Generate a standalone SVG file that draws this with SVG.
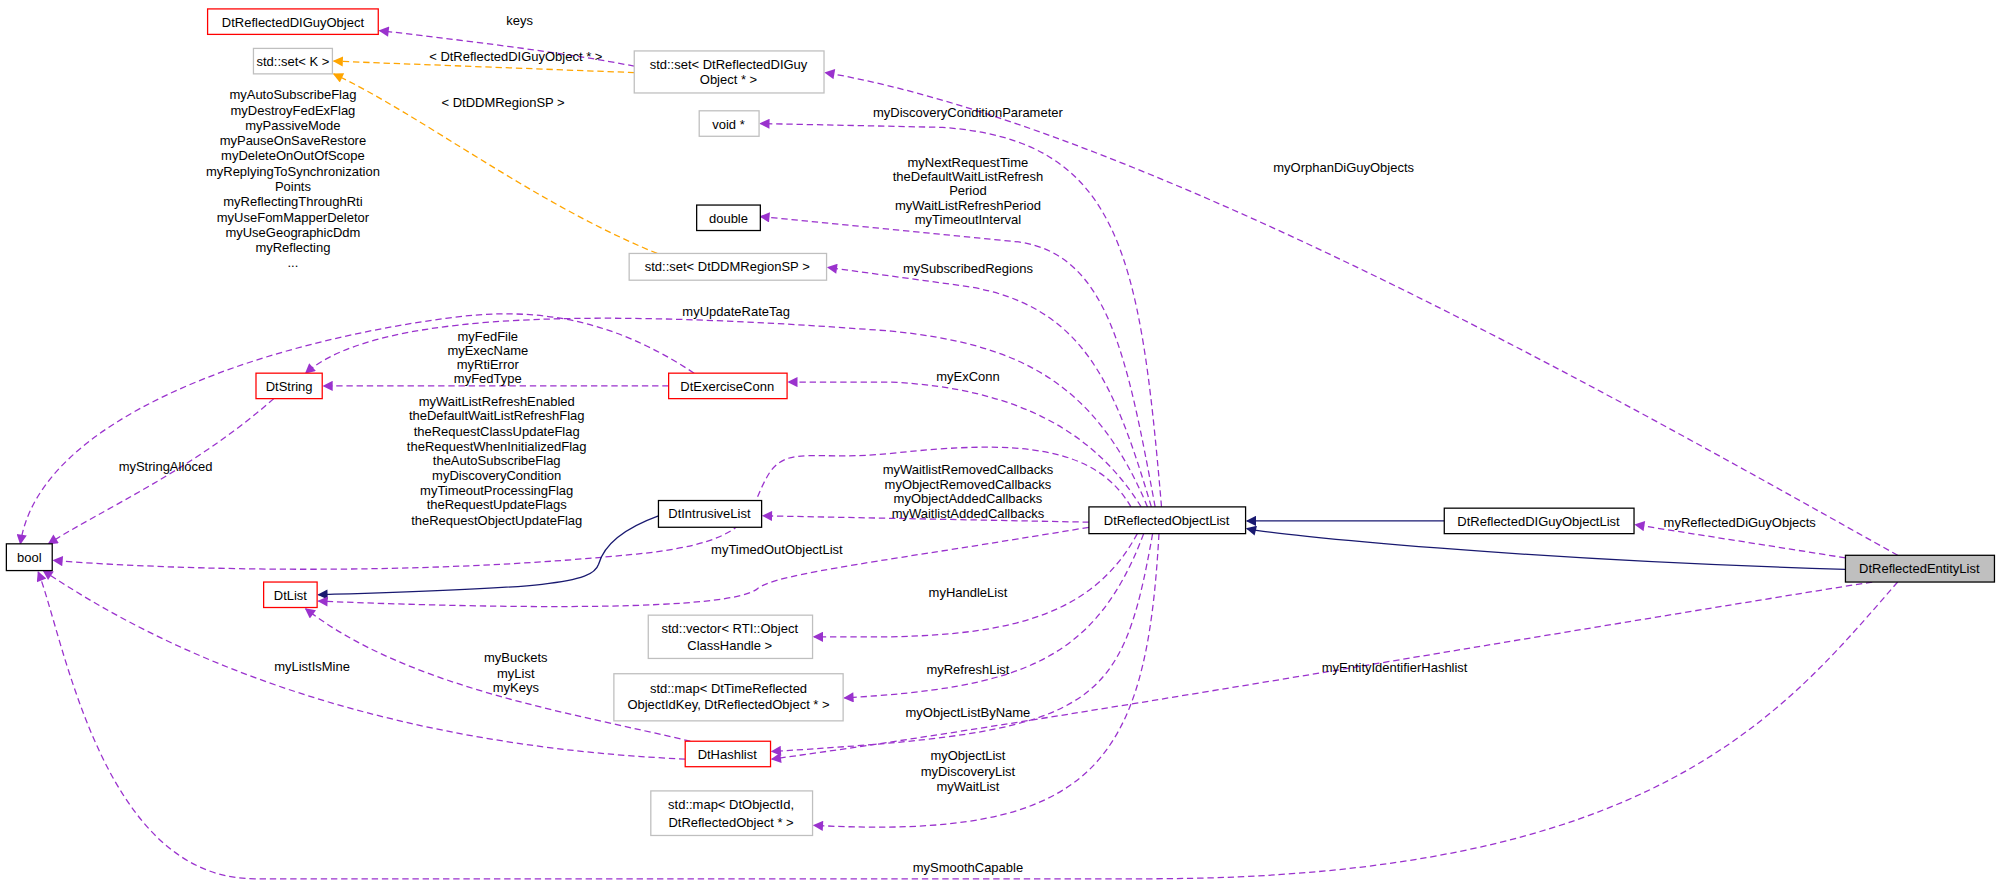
<svg xmlns="http://www.w3.org/2000/svg" width="1997" height="881" viewBox="0 0 1997 881">
<style>
text{font-family:"Liberation Sans",Arial,sans-serif;font-size:10.2px;fill:#000;text-anchor:middle}
.n rect{stroke-width:1}
.blk{fill:#fff;stroke:#000}
.red{fill:#fff;stroke:#ff0000}
.gry{fill:#fff;stroke:#bfbfbf}
.cur{fill:#bfbfbf;stroke:#000}
.p{fill:none;stroke:#9a32cd;stroke-dasharray:5,3;marker-end:url(#mp)}
.o{fill:none;stroke:#ffa500;stroke-dasharray:5,3;marker-end:url(#mo)}
.s{fill:none;stroke:#191970;marker-end:url(#ms)}
</style>
<defs>
<marker id="mp" viewBox="0 0 10 10" refX="9" refY="5" markerWidth="10" markerHeight="8" orient="auto" markerUnits="userSpaceOnUse"><path d="M0,0L10,5L0,10z" fill="#9a32cd"/></marker>
<marker id="mo" viewBox="0 0 10 10" refX="9" refY="5" markerWidth="10" markerHeight="8" orient="auto" markerUnits="userSpaceOnUse"><path d="M0,0L10,5L0,10z" fill="#ffa500"/></marker>
<marker id="ms" viewBox="0 0 10 10" refX="9" refY="5" markerWidth="10" markerHeight="8" orient="auto" markerUnits="userSpaceOnUse"><path d="M0,0L10,5L0,10z" fill="#191970"/></marker>
</defs>
<rect width="1997" height="881" fill="#fff"/>
<g transform="scale(1.2736)">
<g id="connectors">
<path class="p" d="M498,52 C450,42 350,30 298,24"/>
<text x="408" y="20">keys</text>
<path class="o" d="M498,57 L262,48"/>
<text x="405" y="48">&lt; DtReflectedDIGuyObject * &gt;</text>
<path class="o" d="M516,199 C420,160 330,90 262,58"/>
<text x="395" y="84">&lt; DtDDMRegionSP &gt;</text>
<path class="p" d="M1490,436 C1300,330 900,100 648,57"/>
<text x="1055" y="135">myOrphanDiGuyObjects</text>
<path class="p" d="M912,398 C895,200 880,110 740,100 L597,97"/>
<text x="760" y="92">myDiscoveryConditionParameter</text>
<path class="p" d="M907,398 C885,280 870,200 800,190 L597,170"/>
<text x="760" y="131">myNextRequestTime</text>
<text x="760" y="142">theDefaultWaitListRefresh</text>
<text x="760" y="153">Period</text>
<text x="760" y="165">myWaitListRefreshPeriod</text>
<text x="760" y="176">myTimeoutInterval</text>
<path class="p" d="M904,398 C875,300 850,240 760,225 L650,210"/>
<text x="760" y="214">mySubscribedRegions</text>
<path class="p" d="M901,398 C860,300 800,270 700,260 C500,245 300,240 240,293"/>
<text x="578" y="248">myUpdateRateTag</text>
<path class="p" d="M545,293 C480,250 420,240 350,250 C200,270 30,330 16,427"/>
<text x="230" y="78">myAutoSubscribeFlag</text>
<text x="230" y="90">myDestroyFedExFlag</text>
<text x="230" y="102">myPassiveMode</text>
<text x="230" y="114">myPauseOnSaveRestore</text>
<text x="230" y="126">myDeleteOnOutOfScope</text>
<text x="230" y="138">myReplyingToSynchronization</text>
<text x="230" y="150">Points</text>
<text x="230" y="162">myReflectingThroughRti</text>
<text x="230" y="174">myUseFomMapperDeletor</text>
<text x="230" y="186">myUseGeographicDdm</text>
<text x="230" y="198">myReflecting</text>
<text x="230" y="210">...</text>
<path class="p" d="M525,303 L254,303"/>
<text x="383" y="268">myFedFile</text>
<text x="383" y="279">myExecName</text>
<text x="383" y="290">myRtiError</text>
<text x="383" y="301">myFedType</text>
<path class="p" d="M896,398 C860,340 800,305 700,300 L619,300"/>
<text x="760" y="299">myExConn</text>
<path class="p" d="M215,313 C150,370 80,400 38,427"/>
<text x="130" y="370">myStringAlloced</text>
<path class="p" d="M888,398 C860,350 800,345 700,356 C640,362 620,350 605,370 C585,400 600,425 500,435 C300,455 100,445 42,440"/>
<text x="390" y="319">myWaitListRefreshEnabled</text>
<text x="390" y="330">theDefaultWaitListRefreshFlag</text>
<text x="390" y="342">theRequestClassUpdateFlag</text>
<text x="390" y="354">theRequestWhenInitializedFlag</text>
<text x="390" y="365">theAutoSubscribeFlag</text>
<text x="390" y="377">myDiscoveryCondition</text>
<text x="390" y="389">myTimeoutProcessingFlag</text>
<text x="390" y="400">theRequestUpdateFlags</text>
<text x="390" y="412">theRequestObjectUpdateFlag</text>
<path class="p" d="M855,410 L599,405"/>
<text x="760" y="372">myWaitlistRemovedCallbacks</text>
<text x="760" y="384">myObjectRemovedCallbacks</text>
<text x="760" y="395">myObjectAddedCallbacks</text>
<text x="760" y="407">myWaitlistAddedCallbacks</text>
<path class="s" d="M517,405 C495,413 475,425 470,443 C465,458 430,462 250,467"/>
<path class="p" d="M855,414 C700,440 610,450 595,462 C575,480 400,478 250,472"/>
<text x="610" y="435">myTimedOutObjectList</text>
<path class="p" d="M893,419 C860,480 800,498 700,500 L639,500"/>
<text x="760" y="469">myHandleList</text>
<path class="p" d="M898,419 C860,520 800,540 663,548"/>
<text x="760" y="529">myRefreshList</text>
<path class="p" d="M905,419 C880,560 860,575 606,590"/>
<text x="760" y="563">myObjectListByName</text>
<path class="p" d="M910,419 C900,600 860,660 639,648"/>
<text x="760" y="597">myObjectList</text>
<text x="760" y="609">myDiscoveryList</text>
<text x="760" y="621">myWaitList</text>
<path class="p" d="M1470,457 C1200,500 800,570 606,596"/>
<text x="1095" y="528">myEntityIdentifierHashlist</text>
<path class="p" d="M542,582 C450,560 320,540 240,478"/>
<text x="405" y="520">myBuckets</text>
<text x="405" y="532">myList</text>
<text x="405" y="543">myKeys</text>
<path class="p" d="M538,596 C400,590 200,560 34,448"/>
<text x="245" y="527">myListIsMine</text>
<path class="p" d="M1490,457 C1400,560 1300,690 900,690 L200,690 C80,690 50,500 30,449"/>
<text x="760" y="685">mySmoothCapable</text>
<path class="p" d="M1449,438 L1284,412"/>
<text x="1366" y="414">myReflectedDiGuyObjects</text>
<path class="s" d="M1134,409 L979,409"/>
<path class="s" d="M1449,447 C1200,440 1000,420 979,415"/>
</g>
<g id="n1" class="n"><rect class="red" x="163" y="7" width="134" height="20"/><text x="230" y="21">DtReflectedDIGuyObject</text></g>
<g id="n2" class="n"><rect class="gry" x="199" y="38" width="62" height="20"/><text x="230" y="52">std::set&lt; K &gt;</text></g>
<g id="n3" class="n"><rect class="gry" x="498" y="40" width="149" height="33"/><text x="572" y="54">std::set&lt; DtReflectedDIGuy</text><text x="572" y="66">Object * &gt;</text></g>
<g id="n4" class="n"><rect class="gry" x="549" y="87" width="47" height="20"/><text x="572" y="101">void *</text></g>
<g id="n5" class="n"><rect class="blk" x="547" y="161" width="50" height="20"/><text x="572" y="175">double</text></g>
<g id="n6" class="n"><rect class="gry" x="494" y="199" width="155" height="21"/><text x="571" y="213">std::set&lt; DtDDMRegionSP &gt;</text></g>
<g id="n7" class="n"><rect class="red" x="201" y="293" width="52" height="20"/><text x="227" y="307">DtString</text></g>
<g id="n8" class="n"><rect class="red" x="525" y="293" width="93" height="20"/><text x="571" y="307">DtExerciseConn</text></g>
<g id="n9" class="n"><rect class="blk" x="5" y="427" width="36" height="21"/><text x="23" y="441">bool</text></g>
<g id="n10" class="n"><rect class="blk" x="517" y="393" width="81" height="21"/><text x="557" y="407">DtIntrusiveList</text></g>
<g id="n11" class="n"><rect class="blk" x="855" y="398" width="123" height="21"/><text x="916" y="412">DtReflectedObjectList</text></g>
<g id="n12" class="n"><rect class="blk" x="1134" y="399" width="149" height="20"/><text x="1208" y="413">DtReflectedDIGuyObjectList</text></g>
<g id="n13" class="n"><rect class="cur" x="1449" y="436" width="117" height="21"/><text x="1507" y="450">DtReflectedEntityList</text></g>
<g id="n14" class="n"><rect class="red" x="207" y="457" width="42" height="20"/><text x="228" y="471">DtList</text></g>
<g id="n15" class="n"><rect class="gry" x="509" y="483" width="129" height="34"/><text x="573" y="497">std::vector&lt; RTI::Object</text><text x="573" y="510">ClassHandle &gt;</text></g>
<g id="n16" class="n"><rect class="gry" x="482" y="529" width="180" height="37"/><text x="572" y="544">std::map&lt; DtTimeReflected</text><text x="572" y="557">ObjectIdKey, DtReflectedObject * &gt;</text></g>
<g id="n17" class="n"><rect class="red" x="538" y="582" width="67" height="20"/><text x="571" y="596">DtHashlist</text></g>
<g id="n18" class="n"><rect class="gry" x="511" y="621" width="127" height="35"/><text x="574" y="635">std::map&lt; DtObjectId,</text><text x="574" y="649">DtReflectedObject * &gt;</text></g>
</g>
</svg>
